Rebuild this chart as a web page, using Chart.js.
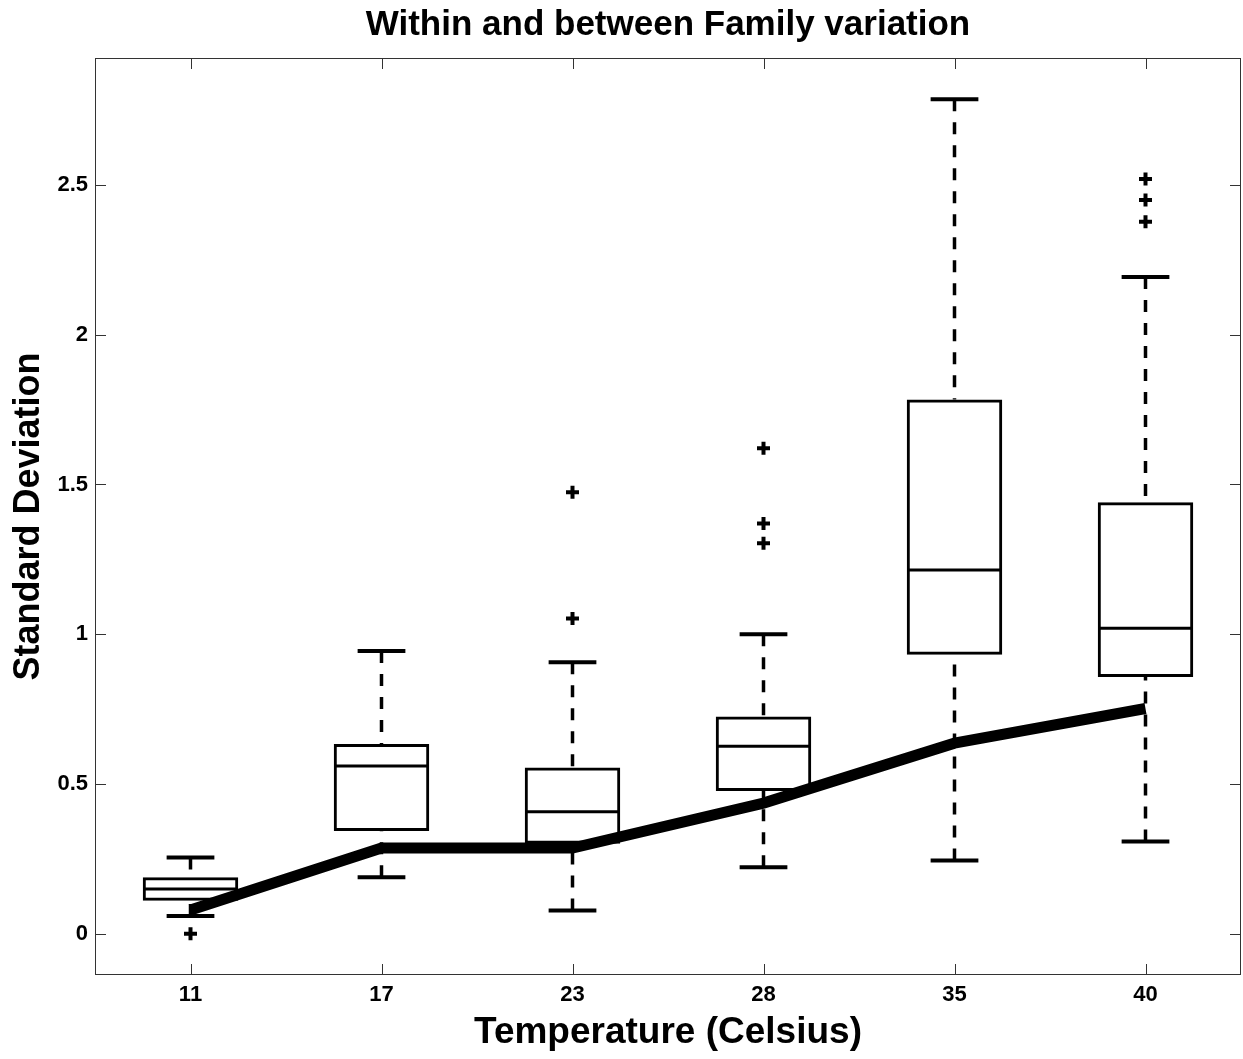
<!DOCTYPE html>
<html>
<head>
<meta charset="utf-8">
<title>Within and between Family variation</title>
<script src="https://cdn.jsdelivr.net/npm/chart.js@4.4.1/dist/chart.umd.min.js"></script>
<style>
  html, body { margin: 0; padding: 0; background: #fff; }
  #wrap { width: 1243px; height: 1059px; }
</style>
</head>
<body>
<div id="wrap"><canvas id="chart" width="1243" height="1059"></canvas></div>
<script>
const categories = ["11", "17", "23", "28", "35", "40"];
const q1 = [0.110, 0.343, 0.300, 0.476, 0.931, 0.857];
const q3 = [0.188, 0.633, 0.555, 0.725, 1.784, 1.441];
const medians = [0.149, 0.560, 0.407, 0.626, 1.214, 1.020];
const whiskerLow = [0.059, 0.188, 0.077, 0.222, 0.244, 0.308];
const whiskerHigh = [0.254, 0.944, 0.906, 1.000, 2.786, 2.193];
const outlierGroups = [[0.0], [], [1.052, 1.474], [1.304, 1.370, 1.621], [], [2.377, 2.450, 2.520]];
const trendLine = [0.079, 0.286, 0.286, 0.436, 0.636, 0.752];
const yTicks = [0, 0.5, 1, 1.5, 2, 2.5];

const FONT = "'Liberation Sans', Arial, Helvetica, sans-serif";

const outlierPoints = [];
outlierGroups.forEach((vals, i) => {
  vals.forEach((v) => outlierPoints.push({ x: categories[i], y: v }));
});

// frame + inward ticks, matlab style
const axesFrame = {
  id: "axesFrame",
  beforeDatasetsDraw(chart) {
    const { ctx, chartArea: a, scales: { x, y } } = chart;
    const len = 11;
    ctx.save();
    ctx.strokeStyle = "#333";
    ctx.lineWidth = 1;
    ctx.strokeRect(a.left + 0.5, a.top + 0.5, a.right - a.left - 1, a.bottom - a.top - 1);
    ctx.beginPath();
    categories.forEach((c, i) => {
      const px = Math.round(x.getPixelForValue(i)) + 0.5;
      ctx.moveTo(px, a.bottom);
      ctx.lineTo(px, a.bottom - len);
      ctx.moveTo(px, a.top);
      ctx.lineTo(px, a.top + len);
    });
    yTicks.forEach((v) => {
      const py = Math.round(y.getPixelForValue(v)) + 0.5;
      ctx.moveTo(a.left, py);
      ctx.lineTo(a.left + len, py);
      ctx.moveTo(a.right, py);
      ctx.lineTo(a.right - len, py);
    });
    ctx.stroke();
    ctx.restore();
  }
};

// whiskers, caps and median lines for each box
const boxParts = {
  id: "boxParts",
  beforeDatasetsDraw(chart) {
    const { ctx, scales: { y } } = chart;
    const bars = chart.getDatasetMeta(0).data;
    ctx.save();
    ctx.strokeStyle = "#000";
    bars.forEach((bar, i) => {
      const cx = bar.x;
      const half = bar.width / 2;
      const capHalf = bar.width / 4;
      const top = y.getPixelForValue(q3[i]);
      const bottom = y.getPixelForValue(q1[i]);
      const hi = y.getPixelForValue(whiskerHigh[i]);
      const lo = y.getPixelForValue(whiskerLow[i]);
      const med = y.getPixelForValue(medians[i]);

      ctx.lineWidth = 3.5;
      ctx.setLineDash([12, 11]);
      ctx.beginPath();
      ctx.moveTo(cx, hi);
      ctx.lineTo(cx, top);
      ctx.moveTo(cx, lo);
      ctx.lineTo(cx, bottom);
      ctx.stroke();

      ctx.setLineDash([]);
      ctx.lineWidth = 4;
      ctx.beginPath();
      ctx.moveTo(cx - capHalf, hi);
      ctx.lineTo(cx + capHalf, hi);
      ctx.moveTo(cx - capHalf, lo);
      ctx.lineTo(cx + capHalf, lo);
      ctx.stroke();

      ctx.lineWidth = 3;
      ctx.beginPath();
      ctx.moveTo(cx - half + 2, med);
      ctx.lineTo(cx + half - 2, med);
      ctx.stroke();
    });
    ctx.restore();
  }
};

const whiteBg = {
  id: "whiteBg",
  beforeDraw(chart) {
    const { ctx, width, height } = chart;
    ctx.save();
    ctx.fillStyle = "#fff";
    ctx.fillRect(0, 0, width, height);
    ctx.restore();
  }
};

new Chart(document.getElementById("chart"), {
  data: {
    labels: categories,
    datasets: [
      {
        type: "bar",
        label: "Boxes",
        data: categories.map((c, i) => [q1[i], q3[i]]),
        backgroundColor: "rgba(0,0,0,0)",
        borderColor: "#000",
        borderWidth: 3,
        borderSkipped: false,
        categoryPercentage: 1,
        barPercentage: 0.5,
        order: 3
      },
      {
        type: "line",
        label: "Outliers",
        data: outlierPoints,
        showLine: false,
        pointStyle: "cross",
        pointRadius: 6.5,
        pointBorderWidth: 4,
        pointBorderColor: "#000",
        pointBackgroundColor: "#000",
        order: 2
      },
      {
        type: "line",
        label: "Trend",
        data: trendLine,
        borderColor: "#000",
        borderWidth: 11,
        pointRadius: 0,
        tension: 0,
        order: 1
      }
    ]
  },
  options: {
    responsive: false,
    animation: false,
    layout: { autoPadding: false, padding: { top: 0, left: 0, right: 2, bottom: 0 } },
    plugins: {
      legend: { display: false },
      tooltip: { enabled: false },
      title: {
        display: true,
        fullSize: false,
        text: "Within and between Family variation",
        color: "#000",
        font: { family: FONT, size: 35, weight: "bold" },
        padding: { top: 4, bottom: 12 }
      }
    },
    scales: {
      x: {
        type: "category",
        offset: true,
        grid: { display: false, drawTicks: false },
        border: { display: false },
        ticks: {
          color: "#000",
          font: { family: FONT, size: 22, weight: "bold" },
          padding: 7
        },
        title: {
          display: true,
          text: "Temperature (Celsius)",
          color: "#000",
          font: { family: FONT, size: 37, weight: "bold" },
          padding: { top: 0, bottom: 4 }
        },
        afterFit: (scale) => {
          scale.height = 84;
          scale.paddingLeft = 0;
          scale.paddingRight = 0;
        }
      },
      y: {
        min: -0.138,
        max: 2.924,
        grid: { display: false, drawTicks: false },
        border: { display: false },
        afterBuildTicks: (scale) => {
          scale.ticks = yTicks.map((v) => ({ value: v }));
        },
        ticks: {
          color: "#000",
          font: { family: FONT, size: 22, weight: "bold" },
          padding: 7,
          callback: (v) => String(v)
        },
        title: {
          display: true,
          text: "Standard Deviation",
          color: "#000",
          font: { family: FONT, size: 36, weight: "bold" },
          padding: { top: 7, bottom: 0 }
        },
        afterFit: (scale) => { scale.width = 95; }
      }
    }
  },
  plugins: [whiteBg, axesFrame, boxParts]
});
</script>
</body>
</html>
